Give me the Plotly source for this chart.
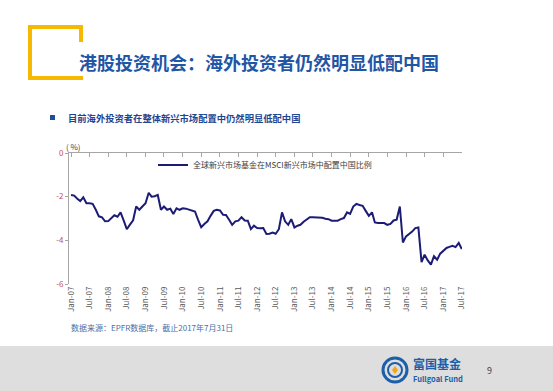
import pandas as pd
import plotly.graph_objects as go

W, H = 553, 391

# ---------------- data ----------------
months = pd.date_range("2007-01-01", periods=127, freq="MS")
china_weight = [
    -1.92, -1.95, -2.08, -2.20, -2.03, -2.30, -2.30, -2.33, -2.60, -2.90,
    -2.95, -3.13, -3.12, -2.98, -2.85, -2.92, -2.72, -3.10, -3.49, -3.28,
    -3.08, -2.45, -2.60, -2.45, -2.30, -1.82, -2.00, -1.98, -1.92, -2.60,
    -2.45, -2.60, -2.55, -2.79, -2.53, -2.60, -2.53, -2.55, -2.60, -2.62,
    -2.68, -3.06, -3.40, -3.25, -3.13, -2.88, -2.65, -2.60, -2.63, -2.83,
    -2.84, -3.06, -3.29, -3.13, -3.10, -2.94, -3.09, -3.10, -3.49, -3.33,
    -3.44, -3.45, -3.44, -3.71, -3.70, -3.64, -3.70, -3.49, -2.72, -3.13,
    -3.29, -3.03, -3.41, -3.33, -3.29, -3.15, -3.03, -2.94, -2.94, -2.94,
    -2.94, -2.97, -3.01, -3.03, -3.10, -3.10, -3.10, -3.03, -2.98, -2.72,
    -2.79, -2.45, -2.33, -2.38, -2.42, -2.65, -2.88, -2.72, -3.18, -3.21,
    -3.21, -3.21, -3.29, -3.25, -3.09, -3.05, -2.45, -4.10, -3.82, -3.72,
    -3.60, -3.44, -3.41, -5.00, -4.66, -4.92, -5.11, -4.73, -4.89, -4.61,
    -4.50, -4.35, -4.30, -4.25, -4.31, -4.12, -4.40,
]
tick_dates = pd.date_range("2007-01-01", "2017-07-01", freq="6MS")
tick_labels = [
    "Jan-07", "Jul-07", "Jan-08", "Jul-08", "Jan-09", "Jul-09", "Jan-10", "Jul-10",
    "Jan-11", "Jul-11", "Jan-12", "Jul-12", "Jan-13", "Jul-13", "Jan-14", "Jul-14",
    "Jan-15", "Jul-15", "Jan-16", "Jul-16", "Jan-17", "Jul-17",
]
y_ticks = [0, -2, -4, -6]
series_name = "全球新兴市场基金在MSCI新兴市场中配置中国比例"

FONT = "Noto Sans CJK SC"


def px(x):
    return x / W


def py(y):
    return 1 - y / H


fig = go.Figure()
fig.add_trace(go.Scatter(
    x=months, y=china_weight, mode="lines", name=series_name,
    line=dict(color="#1c1c74", width=2), xaxis="x", yaxis="y",
))
# invisible twin so the top (zero-line) axis with ticks is drawn
fig.add_trace(go.Scatter(
    x=months, y=china_weight, mode="lines", showlegend=False,
    line=dict(color="rgba(0,0,0,0)", width=0), hoverinfo="skip",
    xaxis="x2", yaxis="y",
))

x_range = ["2006-12-12", "2017-07-03"]
x_dom = [px(69), px(462)]
y_dom = [py(284), py(153)]

fig.update_layout(
    width=W, height=H,
    margin=dict(l=0, r=0, t=0, b=0),
    paper_bgcolor="white", plot_bgcolor="rgba(0,0,0,0)",
    font=dict(family=FONT, size=8, color="#404040"),
    showlegend=True,
    legend=dict(
        x=px(153), y=py(165), xanchor="left", yanchor="middle",
        bgcolor="rgba(0,0,0,0)", font=dict(size=8, color="#404040"),
        itemwidth=30, borderwidth=0,
    ),
    xaxis=dict(
        domain=x_dom, range=x_range, type="date",
        tickvals=tick_dates, ticktext=tick_labels, tickangle=-90,
        tickfont=dict(size=8, color="#595959"),
        showline=False, showgrid=False, zeroline=False, ticks="",
        automargin=False,
    ),
    xaxis2=dict(
        domain=x_dom, range=x_range, type="date", overlaying="x",
        side="top", anchor="y",
        tickvals=tick_dates, showticklabels=False,
        showline=True, linecolor="#a6a6a6", linewidth=1,
        ticks="inside", ticklen=4, tickcolor="#a6a6a6",
        showgrid=False, zeroline=False, automargin=False,
    ),
    yaxis=dict(
        domain=y_dom, range=[-6, 0], tickvals=y_ticks,
        ticktext=[str(v) for v in y_ticks],
        tickfont=dict(size=8, color="#c0504d"),
        showline=True, linecolor="#a6a6a6", linewidth=1,
        ticks="outside", ticklen=3, tickcolor="#a6a6a6",
        showgrid=False, zeroline=False, automargin=False,
    ),
)

shapes = []
# footer band
shapes.append(dict(type="rect", xref="paper", yref="paper",
                   x0=0, x1=1, y0=0, y1=py(346),
                   fillcolor="#dedede", line=dict(width=0), layer="below"))
# yellow bracket
ylw = "#f6b800"
for (x0, y0, x1, y1) in [(30, 25, 30, 80), (28, 27, 83, 27), (28, 78, 83, 78), (81, 25, 81, 42)]:
    shapes.append(dict(type="line", xref="paper", yref="paper",
                       x0=px(x0), y0=py(y0), x1=px(x1), y1=py(y1),
                       line=dict(color=ylw, width=4)))
# bullet square
shapes.append(dict(type="rect", xref="paper", yref="paper",
                   x0=px(50), x1=px(55), y0=py(120), y1=py(115),
                   fillcolor="#1f4e9c", line=dict(width=0)))
# logo
cx, cy = 395, 370
for r, w in [(12, 3), (7, 2)]:
    shapes.append(dict(type="circle", xref="paper", yref="paper",
                       x0=px(cx - r), x1=px(cx + r), y0=py(cy + r), y1=py(cy - r),
                       line=dict(color="#1d5ea8", width=w)))
shapes.append(dict(type="path", xref="paper", yref="paper",
                   path=f"M {px(cx)} {py(cy-4)} L {px(cx+3)} {py(cy)} L {px(cx)} {py(cy+4)} L {px(cx-3)} {py(cy)} Z",
                   fillcolor="#f2a516", line=dict(width=0)))
fig.update_layout(shapes=shapes)

ann = []
ann.append(dict(text="<b>港股投资机会：海外投资者仍然明显低配中国</b>",
                x=px(77), y=py(62), xanchor="left", yanchor="middle",
                font=dict(size=18, color="#1f56a5", family=FONT)))
ann.append(dict(text="<b>目前海外投资者在整体新兴市场配置中仍然明显低配中国</b>",
                x=px(66), y=py(118), xanchor="left", yanchor="middle",
                font=dict(size=9.3, color="#1f4590", family=FONT)))
ann.append(dict(text="( %)", x=px(64), y=py(146), xanchor="left", yanchor="middle",
                font=dict(size=8, color="#404040", family=FONT)))
ann.append(dict(text="数据来源：EPFR数据库，截止2017年7月31日",
                x=px(69), y=py(327), xanchor="left", yanchor="middle",
                font=dict(size=8, color="#4a6fa5", family=FONT)))
ann.append(dict(text="<b>富国基金</b>", x=px(411), y=py(363), xanchor="left", yanchor="middle",
                font=dict(size=12, color="#1d5ea8", family=FONT)))
ann.append(dict(text="<b>Fullgoal Fund</b>", x=px(411), y=py(378), xanchor="left", yanchor="middle",
                font=dict(size=7.5, color="#1d5ea8", family=FONT)))
ann.append(dict(text="9", x=px(490), y=py(370), xanchor="center", yanchor="middle",
                font=dict(size=9, color="#404040", family=FONT)))
for a in ann:
    a.update(xref="paper", yref="paper", showarrow=False)
fig.update_layout(annotations=ann)

fig.write_html("out.html")
